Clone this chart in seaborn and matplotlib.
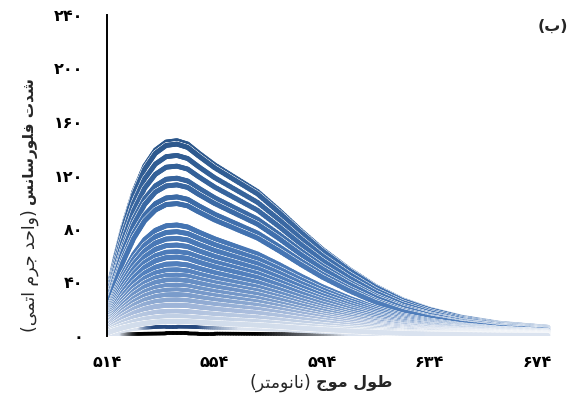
import matplotlib
matplotlib.use("Agg")
import numpy as np
import pandas as pd
import matplotlib.pyplot as plt
import seaborn as sns
from matplotlib.collections import LineCollection
from matplotlib.colors import LinearSegmentedColormap, to_rgba
import matplotlib.patheffects as pe

# ---------------------------------------------------------------- data
wavelength = [514, 517, 520, 524, 528, 532, 536, 540, 544, 548, 554, 562,
              570, 578, 586, 594, 604, 614, 624, 634, 646, 660, 678]

spec01 = [31, 58, 82, 108, 127, 139, 145, 146, 143.5, 137, 128, 118, 108, 94, 79, 65, 50, 37, 27, 20, 14, 9.5, 6.5]
spec02 = [30.5, 57, 80.6, 106.2, 124.8, 136.6, 142.5, 143.5, 141, 134.7, 125.8, 116, 106.2, 92.4, 77.7, 63.9, 49.2, 36.4, 26.5, 19.7, 13.8, 9.3, 6.4]
spec03 = [28.7, 53.7, 75.9, 99.9, 117.5, 128.6, 134.1, 135, 132.7, 126.7, 118.4, 109.2, 99.9, 87, 73.1, 60.1, 46.3, 34.2, 25, 18.5, 13, 8.8, 6]
spec04 = [27, 50.5, 71.3, 94, 110.5, 120.9, 126.2, 127, 124.8, 119.2, 111.4, 102.7, 94, 81.8, 68.7, 56.6, 43.5, 32.2, 23.5, 17.4, 12.2, 8.3, 5.7]
spec05 = [25, 46.9, 66.3, 87.3, 102.6, 112.3, 117.2, 118, 115.9, 110.7, 103.4, 95.3, 87.3, 76, 63.8, 52.5, 40.4, 29.9, 21.8, 16.2, 11.3, 7.7, 5.3]
spec06 = [24, 44.9, 63.5, 83.6, 98.3, 107.6, 112.2, 113, 111.1, 106, 99.1, 91.3, 83.6, 72.8, 61.1, 50.3, 38.7, 28.6, 20.9, 15.5, 10.8, 7.4, 5]
spec07 = [22.1, 41.3, 58.4, 76.9, 90.4, 99, 103.2, 104, 102.2, 97.5, 91.1, 84, 76.9, 66.9, 56.2, 46.3, 35.6, 26.3, 19.2, 14.2, 10, 6.8, 4.6]
spec08 = [21, 39.3, 55.6, 73.2, 86.1, 94.2, 98.3, 99, 97.3, 92.9, 86.8, 80, 73.2, 63.7, 53.6, 44.1, 33.9, 25.1, 18.3, 13.6, 9.5, 6.4, 4.4]
spec09 = [17.6, 32.9, 46.6, 61.3, 72.1, 79, 82.4, 83, 81.5, 77.8, 72.7, 67, 61.3, 53.4, 44.9, 36.9, 28.4, 21, 15.3, 11.4, 8, 5.4, 3.7]
spec10 = [16.6, 31, 43.8, 57.7, 67.8, 74.2, 77.4, 78, 76.6, 73.2, 68.4, 63, 57.7, 50.2, 42.2, 34.7, 26.7, 19.8, 14.4, 10.7, 7.5, 5.1, 3.5]
spec11 = [15.5, 29, 41, 54, 63.5, 69.5, 72.5, 73, 71.8, 68.5, 64, 59, 54, 47, 39.5, 32.5, 25, 18.5, 13.5, 10, 7, 4.8, 3.3]
spec12 = [14.4, 27, 38.2, 50.3, 59.2, 64.8, 67.6, 68, 66.9, 63.8, 59.6, 55, 50.3, 43.8, 36.8, 30.3, 23.3, 17.2, 12.6, 9.3, 6.5, 4.4, 3]
spec13 = [13.4, 25.1, 35.4, 46.7, 54.9, 60, 62.6, 63, 62, 59.2, 55.3, 51, 46.7, 40.6, 34.1, 28.1, 21.6, 16, 11.7, 8.6, 6, 4.1, 2.8]
spec14 = [12.5, 23.4, 33.1, 43.6, 51.3, 56.2, 58.6, 59, 58, 55.3, 51.7, 47.7, 43.6, 38, 31.9, 26.3, 20.2, 14.9, 10.9, 8.1, 5.7, 3.8, 2.6]
spec15 = [11.5, 21.5, 30.3, 40, 47, 51.4, 53.7, 54, 53.1, 50.7, 47.4, 43.7, 40, 34.8, 29.2, 24.1, 18.5, 13.7, 10, 7.4, 5.2, 3.5, 2.4]
spec16 = [10.5, 19.7, 27.8, 36.6, 43.1, 47.1, 49.2, 49.5, 48.6, 46.4, 43.4, 40, 36.6, 31.9, 26.8, 22, 17, 12.5, 9.2, 6.8, 4.7, 3.2, 2.2]
spec17 = [9.7, 18.1, 25.6, 33.7, 39.6, 43.4, 45.2, 45.5, 44.8, 42.7, 39.9, 36.8, 33.7, 29.3, 24.6, 20.3, 15.6, 11.5, 8.4, 6.2, 4.4, 3, 2]
spec18 = [8.9, 16.7, 23.6, 31.1, 36.6, 40, 41.8, 42, 41.3, 39.5, 36.9, 34, 31.1, 27.1, 22.8, 18.7, 14.4, 10.7, 7.8, 5.8, 4, 2.7, 1.9]
spec19 = [8.1, 15.1, 21.3, 28.1, 33, 36.1, 37.7, 38, 37.3, 35.6, 33.3, 30.7, 28.1, 24.4, 20.5, 16.9, 13, 9.6, 7, 5.2, 3.6, 2.5, 1.7]
spec20 = [7.3, 13.7, 19.4, 25.5, 30, 32.8, 34.2, 34.5, 33.9, 32.3, 30.2, 27.8, 25.5, 22.2, 18.6, 15.3, 11.8, 8.7, 6.4, 4.7, 3.3, 2.2, 1.5]
spec21 = [6.6, 12.3, 17.4, 22.9, 26.9, 29.5, 30.7, 31, 30.4, 29, 27.1, 25, 22.9, 19.9, 16.7, 13.8, 10.6, 7.8, 5.7, 4.2, 3, 2, 1.4]
spec22 = [5.7, 10.7, 15.2, 20, 23.5, 25.7, 26.8, 27, 26.5, 25.3, 23.7, 21.8, 20, 17.4, 14.6, 12, 9.3, 6.8, 5, 3.7, 2.6, 1.8, 1.2]
spec23 = [4.9, 9.2, 13, 17.1, 20.1, 22, 22.9, 23, 22.7, 21.6, 20.2, 18.6, 17.1, 14.9, 12.5, 10.3, 7.9, 5.8, 4.3, 3.2, 2.2, 1.5, 1]
spec24 = [3.9, 7.4, 10.4, 13.7, 16.1, 17.7, 18.4, 18.5, 18.2, 17.4, 16.3, 15, 13.7, 11.9, 10, 8.3, 6.4, 4.7, 3.4, 2.5, 1.8, 1.2, 0.8]
spec25 = [3.1, 5.7, 8.1, 10.7, 12.6, 13.8, 14.4, 14.5, 14.2, 13.6, 12.7, 11.7, 10.7, 9.3, 7.8, 6.4, 5, 3.7, 2.7, 2, 1.4, 0.9, 0.6]
spec26 = [2.3, 4.4, 6.2, 8.1, 9.5, 10.4, 10.9, 11, 10.8, 10.3, 9.6, 8.9, 8.1, 7.1, 5.9, 4.9, 3.8, 2.8, 2, 1.5, 1.1, 0.7, 0.5]
spec27 = [1.5, 2.8, 3.9, 5.2, 6.1, 6.7, 7, 7, 6.9, 6.6, 6.1, 5.7, 5.2, 4.5, 3.8, 3.1, 2.4, 1.8, 1.3, 1, 0.7, 0.5, 0.3]
blank = [0.3, 0.8, 1.2, 1.5, 1.7, 1.8, 1.9, 1.9, 1.9, 1.8, 1.8, 1.7, 1.6, 1.5, 1.4, 1.3, 1.1, 0.9, 0.8, 0.6, 0.5, 0.4, 0.3]

titration = [spec01, spec02, spec03, spec04, spec05, spec06, spec07, spec08, spec09,
             spec10, spec11, spec12, spec13, spec14, spec15, spec16, spec17, spec18,
             spec19, spec20, spec21, spec22, spec23, spec24, spec25, spec26]

x_ticks = [514, 554, 594, 634, 674]
y_ticks = [0, 40, 80, 120, 160, 200, 240]

panel_tag = "(ب)"
x_title_bold, x_title_unit = "طول موج", "(نانومتر)"
y_title_bold, y_title_unit = "شدت فلورسانس", "(واحد جرم اتمی)"

# ---------------------------------------------------------------- helpers
FA_DIGITS = str.maketrans("0123456789", "۰۱۲۳۴۵۶۷۸۹")

# isolated, final, initial, medial presentation forms
FORMS = {
    "ا": ("\uFE8D", "\uFE8E", None, None),
    "ب": ("\uFE8F", "\uFE90", "\uFE91", "\uFE92"),
    "ت": ("\uFE95", "\uFE96", "\uFE97", "\uFE98"),
    "ج": ("\uFE9D", "\uFE9E", "\uFE9F", "\uFEA0"),
    "ح": ("\uFEA1", "\uFEA2", "\uFEA3", "\uFEA4"),
    "د": ("\uFEA9", "\uFEAA", None, None),
    "ر": ("\uFEAD", "\uFEAE", None, None),
    "س": ("\uFEB1", "\uFEB2", "\uFEB3", "\uFEB4"),
    "ش": ("\uFEB5", "\uFEB6", "\uFEB7", "\uFEB8"),
    "ط": ("\uFEC1", "\uFEC2", "\uFEC3", "\uFEC4"),
    "ف": ("\uFED1", "\uFED2", "\uFED3", "\uFED4"),
    "ل": ("\uFEDD", "\uFEDE", "\uFEDF", "\uFEE0"),
    "م": ("\uFEE1", "\uFEE2", "\uFEE3", "\uFEE4"),
    "ن": ("\uFEE5", "\uFEE6", "\uFEE7", "\uFEE8"),
    "و": ("\uFEED", "\uFEEE", None, None),
    "ی": ("\uFBFC", "\uFBFD", "\uFBFE", "\uFBFF"),
}


def rtl(text):
    """Join Persian letters and lay the string out right-to-left."""
    glyphs = []
    for i, ch in enumerate(text):
        if ch not in FORMS:
            glyphs.append(ch)
            continue
        iso, fin, ini, med = FORMS[ch]
        prev = text[i - 1] if i > 0 else ""
        nxt = text[i + 1] if i + 1 < len(text) else ""
        join_prev = prev in FORMS and FORMS[prev][2] is not None
        join_next = ini is not None and nxt in FORMS
        if join_prev and join_next:
            glyphs.append(med)
        elif join_prev:
            glyphs.append(fin)
        elif join_next:
            glyphs.append(ini)
        else:
            glyphs.append(iso)
    mirror = {"(": ")", ")": "("}
    return "".join(mirror.get(c, c) for c in reversed(glyphs))


def fa_num(v):
    return str(v).translate(FA_DIGITS)


# ---------------------------------------------------------------- figure
sns.set_theme(style="white")
plt.rcParams["font.family"] = ["DejaVu Sans"]

W, H = 571, 399
fig = plt.figure(figsize=(W / 100, H / 100), dpi=100)
ax = fig.add_axes([107 / W, 63 / H, 449 / W, 321 / H])

shade = LinearSegmentedColormap.from_list(
    "fluor",
    [(0.0, "#e8eef6"), (0.07, "#d0dbea"), (0.14, "#a8bcdc"), (0.21, "#7b9ccb"),
     (0.35, "#5280bd"), (0.6, "#4272b0"), (1.0, "#2c578b")])

top = max(spec01)
lw = 3.5
outline = [pe.Stroke(linewidth=lw + 0.7, foreground="white"), pe.Normal()]
pale = np.array(to_rgba("#dbe3ef"))

# (values, solid colour or None, lower/upper intensity of the solid stretch)
layers = [(blank, "black", 1.1, 1.6), (spec27, "#26497f", 5.6, 6.6)]
layers += [(s, None, None, None) for s in titration]

for values, solid, lo, hi in layers:
    frame = pd.DataFrame({"wavelength": wavelength, "intensity": values})
    sns.lineplot(data=frame, x="wavelength", y="intensity", ax=ax,
                 color="#2c578b", linewidth=lw, estimator=None, sort=False)
    line = ax.lines[-1]
    xy = line.get_xydata()
    line.remove()
    # split each straight piece so the shading can change along the curve
    pts = []
    for a, b in zip(xy[:-1], xy[1:]):
        for f in np.linspace(0, 1, 8, endpoint=False):
            pts.append(a + (b - a) * f)
    pts.append(xy[-1])
    pts = np.array(pts)
    segs = np.stack([pts[:-1], pts[1:]], axis=1)
    ymid = 0.5 * (segs[:, 0, 1] + segs[:, 1, 1])
    if solid is not None:
        w = np.clip((ymid - lo) / (hi - lo), 0, 1)[:, None]
        colors = w * np.array(to_rgba(solid)) + (1 - w) * pale
        width = lw * 0.75
    else:
        peak = max(values)
        t = np.clip(0.5 * peak / top + 0.5 * ymid / top, 0, 1)
        colors = shade(t)
        width = lw
    lc = LineCollection(segs, colors=colors, linewidths=width,
                        capstyle="round", joinstyle="round")
    lc.set_path_effects(outline if solid is None else [pe.Normal()])
    ax.add_collection(lc)

ax.set_xlim(514, 681)
ax.set_ylim(0, 240)
ax.set_xlabel("")
ax.set_ylabel("")
ax.set_xticks(x_ticks)
ax.set_yticks(y_ticks)
ax.set_xticklabels([fa_num(v) for v in x_ticks], fontweight="bold", fontsize=11.5)
ax.set_yticklabels([fa_num(v) for v in y_ticks], fontweight="bold", fontsize=11.5)
ax.tick_params(axis="both", length=0, colors="black")
ax.tick_params(axis="y", pad=17)
ax.tick_params(axis="x", pad=14)

for side in ("top", "right", "bottom"):
    ax.spines[side].set_visible(False)
ax.spines["left"].set_color("black")
ax.spines["left"].set_linewidth(1.4)


def fx(px):
    return px / W


def fy(py):
    return 1 - py / H


# axis titles: bold quantity followed by the unit in regular weight
xb = fig.text(0, fy(383), rtl(x_title_bold), fontsize=11.5, fontweight="bold",
              ha="left", va="center")
xu = fig.text(0, fy(383), rtl(x_title_unit), fontsize=12.5,
              ha="right", va="center")
yb = fig.text(fx(30), 0, rtl(y_title_bold), fontsize=11, fontweight="bold",
              rotation=90, ha="center", va="bottom")
yu = fig.text(fx(30), 0, rtl(y_title_unit), fontsize=12.5,
              rotation=90, ha="center", va="top")

renderer = fig.canvas.get_renderer()
gap = 4
wb = xb.get_window_extent(renderer).width
wu = xu.get_window_extent(renderer).width
left = 321 - (wb + wu + gap) / 2
xu.set_x(fx(left + wu))
xb.set_x(fx(left + wu + gap))

hb = yb.get_window_extent(renderer).height
hu = yu.get_window_extent(renderer).height
top_px = 205 - (hb + hu + gap) / 2
yb.set_y(fy(top_px + hb))
yu.set_y(fy(top_px + hb + gap))

fig.text(fx(553), fy(26), rtl(panel_tag), fontsize=11.5, fontweight="bold",
         ha="center", va="center")

fig.savefig("out.png", dpi=100)
